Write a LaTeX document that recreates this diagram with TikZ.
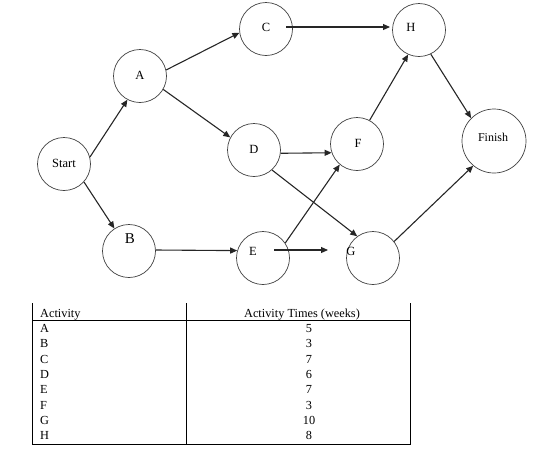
\documentclass[tikz,border=0pt]{standalone}
\usepackage{fontspec}
\setmainfont{Liberation Serif}
\usetikzlibrary{arrows.meta,calc}
\begin{document}
\begin{tikzpicture}[x=1pt,y=-1pt,
  ev/.style={circle,draw=black!75,line width=0.7pt,minimum size=53pt,inner sep=0pt},
  lbl/.style={font=\fontsize{12.5}{14}\selectfont,inner sep=0pt},
  arr/.style={line width=1.1pt,black!85,-{Triangle[length=7pt,width=6pt]}},
  tt/.style={font=\fontsize{12.3}{13}\selectfont,inner sep=0pt,anchor=base},
  tl/.style={line width=0.9pt}]
\useasboundingbox (0,0) rectangle (543,456);
% events
\node[ev] (S) at (64,164) {};
\node[ev] (A) at (140,76) {};
\node[ev] (B) at (129,251) {};
\node[ev] (C) at (266,29) {};
\node[ev] (D) at (254,150) {};
\node[ev] (E) at (263,258) {};
\node[ev] (F) at (357,144) {};
\node[ev] (G) at (373,258) {};
\node[ev] (H) at (419,30) {};
\node[ev,minimum size=64pt] (Fi) at (494,141) {};
% labels
\node[lbl] (lS) at (64,163) {Start};
\node[lbl] (lA) at (140,75) {A};
\node[lbl,font=\fontsize{15}{16}\selectfont] (lB) at (130,239) {B};
\node[lbl] (lC) at (266,27) {C};
\node[lbl] (lD) at (254,149) {D};
\node[lbl] (lE) at (253,251) {E};
\node[lbl] (lF) at (358,143) {F};
\node[lbl] (lG) at (351,251) {G};
\node[lbl] (lH) at (411,27) {H};
\node[lbl,font=\fontsize{12}{13}\selectfont] (lFi) at (493,137) {Finish};
% activities
\draw[arr] (S.15) -- (A.242);
\draw[arr] (S.318) -- (B.123);
\draw[arr] (A.13) -- (C.188);
\draw[arr] (A.-30) -- (D.152);
\draw[arr] ($(C.center)+(20,-2)$) -- ($(H.center)+(-29,-3)$);
\draw[arr] (D.-7) -- (F.199);
\draw[arr] (D.-48) -- (G.126);
\draw[arr] ($(B.center)+(27,-1)$) -- (E.164);
\draw[arr] (E.34) -- (F.230);
\draw[arr] ($(E.center)+(11,-8)$) -- ($(G.center)+(-45,-8)$);
\draw[arr] (F.62) -- (H.246);
\draw[arr] (H.-64) -- (Fi.135);
\draw[arr] (G.38) -- (Fi.230);
% table
\draw[tl] (32,303) -- (32,444) -- (410,444) -- (410,303);
\draw[tl] (186,303) -- (186,444);
\draw[tl] (32,320) -- (410,320);
\node[tt,anchor=base west] (h1) at (40,317) {Activity};
\node[tt] (h2) at (302,317) {Activity Times (weeks)};
\foreach \a/\t [count=\i from 0] in {A/5,B/3,C/7,D/6,E/7,F/3,G/10,H/8}{
  \node[tt,anchor=base west] (r\i) at (40,{332.5+15.3*\i}) {\a};
  \node[tt] (v\i) at (309,{332.5+15.3*\i}) {\t};
}
\end{tikzpicture}
\end{document}
